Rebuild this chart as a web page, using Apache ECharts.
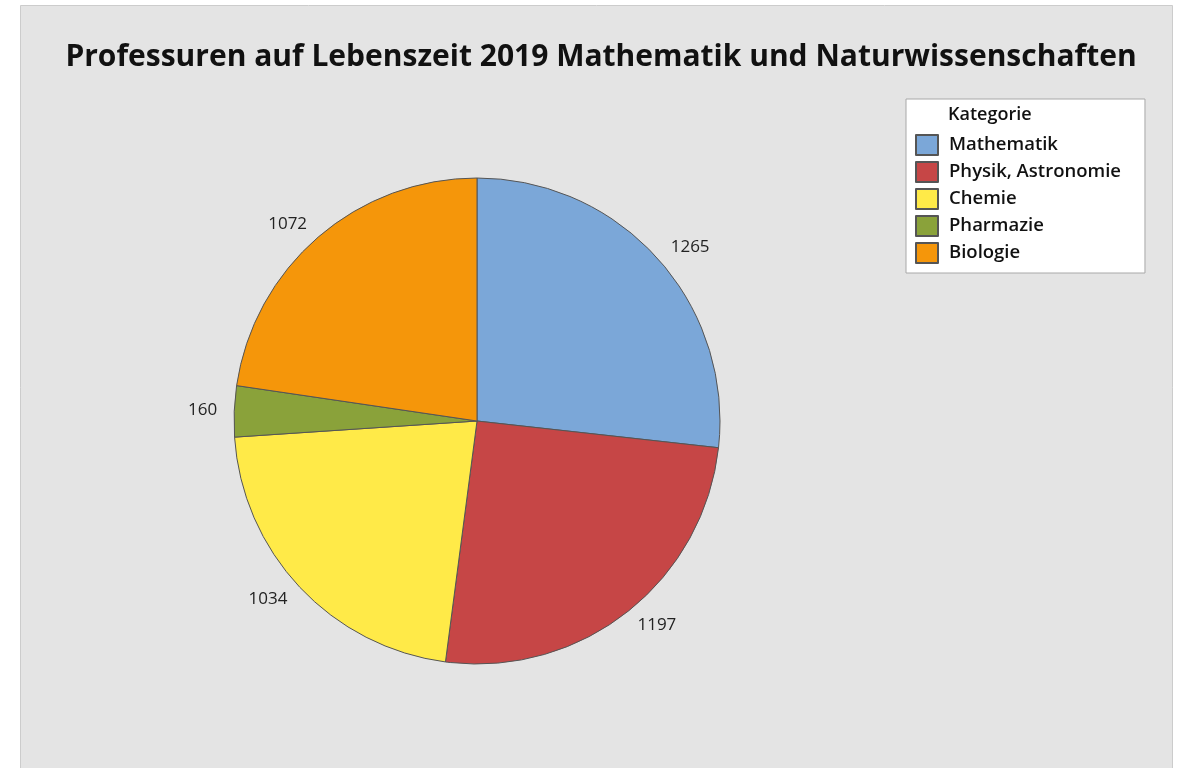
<!DOCTYPE html>
<html>
<head>
<meta charset="utf-8">
<script src="https://cdn.jsdelivr.net/npm/echarts@6/dist/echarts.min.js"></script>
<style>
  html, body { margin: 0; padding: 0; background: #fff; }
  #chart { width: 1183px; height: 768px; }
</style>
</head>
<body>
<div id="chart"></div>
<script>
// data
var categories = ["Mathematik", "Physik, Astronomie", "Chemie", "Pharmazie", "Biologie"];
var values = [1265, 1197, 1034, 160, 1072];
var colors = ["#7ba7d8", "#c64646", "#ffea48", "#8aa23a", "#f5960a"];

var font = "'Open Sans', 'Noto Sans', sans-serif";

var chart = echarts.init(document.getElementById("chart"));

var pieData = categories.map(function(name, i) {
  return { name: name, value: values[i], itemStyle: { color: colors[i] } };
});

var option = {
  backgroundColor: "#ffffff",
  animation: false,
  title: {
    text: "Professuren auf Lebenszeit 2019 Mathematik und Naturwissenschaften",
    left: 596,
    top: 37,
    textAlign: "center",
    textStyle: {
      fontFamily: font,
      fontSize: 30,
      fontWeight: 700,
      color: "#111"
    }
  },
  graphic: [
    {
      type: "rect",
      z: -10,
      shape: { x: 20.5, y: 5.5, width: 1152, height: 800 },
      style: { fill: "#e4e4e4", stroke: "#cccccc", lineWidth: 1 }
    },
    {
      type: "text",
      z: 100,
      left: 948,
      top: 106,
      style: {
        text: "Kategorie",
        fontFamily: font,
        fontSize: 18,
        fontWeight: 600,
        fill: "#111"
      }
    }
  ],
  legend: {
    orient: "vertical",
    left: 906,
    top: 99,
    padding: [35, 24, 9, 9],
    backgroundColor: "#ffffff",
    borderColor: "#a8a8a8",
    borderWidth: 1,
    itemWidth: 22,
    itemHeight: 20,
    itemGap: 5,
    icon: "rect",
    data: categories,
    textStyle: {
      fontFamily: font,
      fontSize: 18.5,
      fontWeight: 600,
      lineHeight: 20,
      color: "#111",
      padding: [0, 0, 0, 6]
    }
  },
  series: [
    {
      type: "pie",
      center: [477, 421],
      radius: 243,
      startAngle: 90,
      clockwise: true,
      avoidLabelOverlap: false,
      itemStyle: { borderColor: "#555555", borderWidth: 1 },
      label: {
        show: true,
        position: "outside",
        formatter: "{c}",
        fontFamily: font,
        fontSize: 17,
        color: "#222",
        distanceToLabelLine: 0
      },
      labelLine: { show: false, length: 17, length2: 0 },
      emphasis: { disabled: true },
      data: pieData
    }
  ]
};

chart.setOption(option);
</script>
</body>
</html>
